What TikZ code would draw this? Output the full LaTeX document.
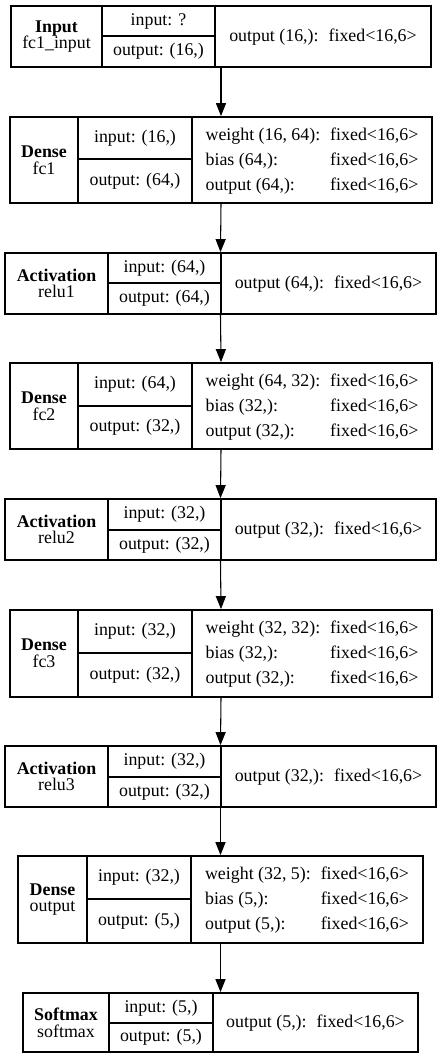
\documentclass[tikz,border=0pt]{standalone}
\usepackage{fontspec}
\setmainfont{Liberation Serif}
\usetikzlibrary{arrows.meta,fit}
\tikzset{>={Triangle[length=9.75pt,width=7.5pt]}}
\tikzset{cell/.style={draw, line width=0.9pt, inner sep=0pt, label={[align=center]center:{#1}}}}
\tikzset{frame/.style={inner sep=0pt}}
\tikzset{flow/.style={->, line width=0.8pt}}
\newcommand{\qtab}[1]{{\def\arraystretch{1.5}\begin{tabular}{@{}l@{\hspace{7.5pt}}l@{}}#1\end{tabular}}}

\begin{document}
\begin{tikzpicture}[x=0.75pt,y=-0.75pt,font=\fontsize{13.4pt}{12.5pt}\selectfont]
      \useasboundingbox (0,0) rectangle (441,1060);
      % Input
      \node[cell={\textbf{Input}\\fc1\_input},fit={(11,6)(102,67)}] (inp-name) {};
      \node[cell={input: ?},fit={(102,6)(215,36)}] (inp-in) {};
      \node[cell={output: (16,)},fit={(102,36)(215,67)}] (inp-out) {};
      \node[cell={\qtab{output (16,): & fixed<16,6>}},fit={(215,6)(431,67)}] (inp-res) {};
      \node[frame,fit=(inp-name)(inp-res)] (inp) {};
      % fc1
      \node[cell={\textbf{Dense}\\fc1},fit={(10,117)(78,203)}] (fc1-name) {};
      \node[cell={input: (16,)},fit={(78,117)(192,159)}] (fc1-in) {};
      \node[cell={output: (64,)},fit={(78,159)(192,203)}] (fc1-out) {};
      \node[cell={\qtab{weight (16, 64): & fixed<16,6>\\ bias (64,): & fixed<16,6>\\ output (64,): & fixed<16,6>}},fit={(192,117)(432,203)}] (fc1-res) {};
      \node[frame,fit=(fc1-name)(fc1-res)] (fc1) {};
      % relu1
      \node[cell={\textbf{Activation}\\relu1},fit={(5,253)(108,314)}] (relu1-name) {};
      \node[cell={input: (64,)},fit={(108,253)(221,283)}] (relu1-in) {};
      \node[cell={output: (64,)},fit={(108,283)(221,314)}] (relu1-out) {};
      \node[cell={\qtab{output (64,): & fixed<16,6>}},fit={(221,253)(436,314)}] (relu1-res) {};
      \node[frame,fit=(relu1-name)(relu1-res)] (relu1) {};
      % fc2
      \node[cell={\textbf{Dense}\\fc2},fit={(10,363)(78,449)}] (fc2-name) {};
      \node[cell={input: (64,)},fit={(78,363)(192,406)}] (fc2-in) {};
      \node[cell={output: (32,)},fit={(78,406)(192,449)}] (fc2-out) {};
      \node[cell={\qtab{weight (64, 32): & fixed<16,6>\\ bias (32,): & fixed<16,6>\\ output (32,): & fixed<16,6>}},fit={(192,363)(432,449)}] (fc2-res) {};
      \node[frame,fit=(fc2-name)(fc2-res)] (fc2) {};
      % relu2
      \node[cell={\textbf{Activation}\\relu2},fit={(5,499)(108,560)}] (relu2-name) {};
      \node[cell={input: (32,)},fit={(108,499)(221,530)}] (relu2-in) {};
      \node[cell={output: (32,)},fit={(108,530)(221,560)}] (relu2-out) {};
      \node[cell={\qtab{output (32,): & fixed<16,6>}},fit={(221,499)(436,560)}] (relu2-res) {};
      \node[frame,fit=(relu2-name)(relu2-res)] (relu2) {};
      % fc3
      \node[cell={\textbf{Dense}\\fc3},fit={(10,610)(78,697)}] (fc3-name) {};
      \node[cell={input: (32,)},fit={(78,610)(192,653)}] (fc3-in) {};
      \node[cell={output: (32,)},fit={(78,653)(192,697)}] (fc3-out) {};
      \node[cell={\qtab{weight (32, 32): & fixed<16,6>\\ bias (32,): & fixed<16,6>\\ output (32,): & fixed<16,6>}},fit={(192,610)(432,697)}] (fc3-res) {};
      \node[frame,fit=(fc3-name)(fc3-res)] (fc3) {};
      % relu3
      \node[cell={\textbf{Activation}\\relu3},fit={(5,746)(108,807)}] (relu3-name) {};
      \node[cell={input: (32,)},fit={(108,746)(221,777)}] (relu3-in) {};
      \node[cell={output: (32,)},fit={(108,777)(221,807)}] (relu3-out) {};
      \node[cell={\qtab{output (32,): & fixed<16,6>}},fit={(221,746)(436,807)}] (relu3-res) {};
      \node[frame,fit=(relu3-name)(relu3-res)] (relu3) {};
      % output
      \node[cell={\textbf{Dense}\\output},fit={(18,856)(87,943)}] (out-name) {};
      \node[cell={input: (32,)},fit={(87,856)(191,899)}] (out-in) {};
      \node[cell={output: (5,)},fit={(87,899)(191,943)}] (out-out) {};
      \node[cell={\qtab{weight (32, 5): & fixed<16,6>\\ bias (5,): & fixed<16,6>\\ output (5,): & fixed<16,6>}},fit={(191,856)(423,943)}] (out-res) {};
      \node[frame,fit=(out-name)(out-res)] (out) {};
      % softmax
      \node[cell={\textbf{Softmax}\\softmax},fit={(23,993)(109,1052)}] (soft-name) {};
      \node[cell={input: (5,)},fit={(109,993)(213,1023)}] (soft-in) {};
      \node[cell={output: (5,)},fit={(109,1023)(213,1052)}] (soft-out) {};
      \node[cell={\qtab{output (5,): & fixed<16,6>}},fit={(213,993)(418,1052)}] (soft-res) {};
      \node[frame,fit=(soft-name)(soft-res)] (soft) {};
      % edges
      \draw[flow] (inp.south) -- (fc1.north);
      \draw[flow] (fc1.south) -- (relu1.north);
      \draw[flow] (relu1.south) -- (fc2.north);
      \draw[flow] (fc2.south) -- (relu2.north);
      \draw[flow] (relu2.south) -- (fc3.north);
      \draw[flow] (fc3.south) -- (relu3.north);
      \draw[flow] (relu3.south) -- (out.north);
      \draw[flow] (out.south) -- (soft.north);
    \end{tikzpicture}
\end{document}
